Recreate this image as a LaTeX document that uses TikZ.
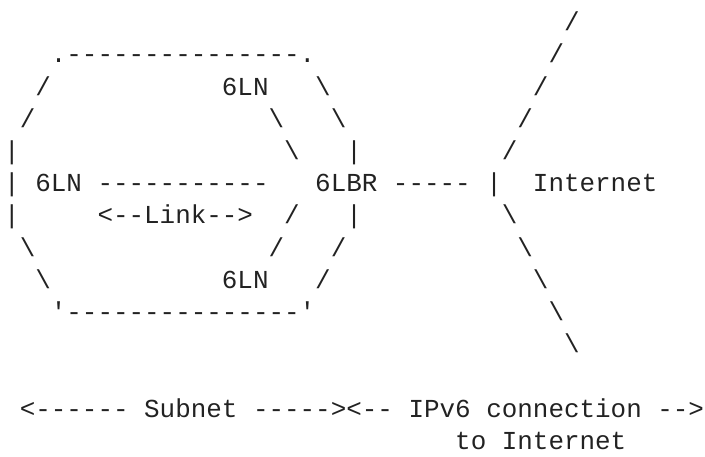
\documentclass[tikz,border=0pt]{standalone}
\usepackage{fontspec}
\setmonofont{Liberation Mono}
\definecolor{ink}{HTML}{222222}
\newcommand\bs{\textbackslash}
\newcommand\gap[1]{\kern\dimexpr0.6em*#1\relax}
\begin{document}
\begin{tikzpicture}[x=1pt,y=-1pt,
  txt/.style={anchor=base west, inner sep=0pt, outer sep=0pt, text=ink,
    font=\ttfamily\fontsize{25.92}{32}\selectfont}]
\useasboundingbox (0,0) rectangle (705,456);
\def\xo{4.2}
\node[txt] (l1)  at (\xo,30.6)  {\gap{36}/};
\node[txt] (l2)  at (\xo,62.8)  {\gap{3}.---------------.\gap{15}/};
\node[txt] (l3)  at (\xo,95)    {\gap{2}/\gap{11}6LN\gap{3}\bs\gap{13}/};
\node[txt] (l4)  at (\xo,127.2) {\gap{1}/\gap{15}\bs\gap{3}\bs\gap{11}/};
\node[txt] (l5)  at (\xo,159.4) {|\gap{17}\bs\gap{3}|\gap{9}/};
\node[txt] (l6)  at (\xo,191.6) {|\gap{1}6LN\gap{1}-----------\gap{3}6LBR\gap{1}-----\gap{1}|\gap{2}Internet};
\node[txt] (l7)  at (\xo,223.8) {|\gap{5}<--Link-->\gap{2}/\gap{3}|\gap{9}\bs};
\node[txt] (l8)  at (\xo,256)   {\gap{1}\bs\gap{15}/\gap{3}/\gap{11}\bs};
\node[txt] (l9)  at (\xo,288.2) {\gap{2}\bs\gap{11}6LN\gap{3}/\gap{13}\bs};
\node[txt] (l10) at (\xo,320.4) {\gap{3}'---------------'\gap{15}\bs};
\node[txt] (l11) at (\xo,352.6) {\gap{36}\bs};
\node[txt] (l13) at (\xo,417)   {\gap{1}<------\gap{1}Subnet\gap{1}-----><--\gap{1}IPv6\gap{1}connection\gap{1}-->};
\node[txt] (l14) at (\xo,449.2) {\gap{29}to\gap{1}Internet};
\end{tikzpicture}
\end{document}
